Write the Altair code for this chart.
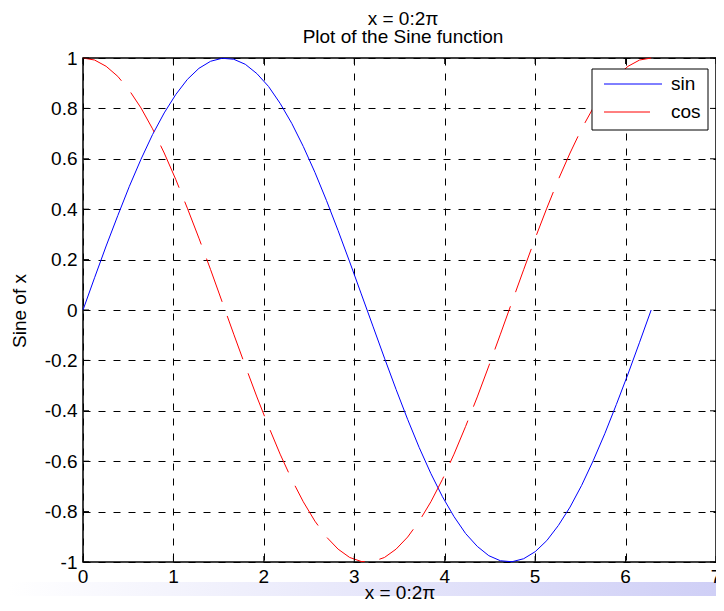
import altair as alt
import pandas as pd

# ---- data ----
x_vals = [0.000, 0.128, 0.256, 0.385, 0.513, 0.641, 0.769, 0.898, 1.026, 1.154,
          1.282, 1.411, 1.539, 1.667, 1.795, 1.923, 2.052, 2.180, 2.308, 2.436,
          2.565, 2.693, 2.821, 2.949, 3.077, 3.206, 3.334, 3.462, 3.590, 3.718,
          3.847, 3.975, 4.103, 4.231, 4.360, 4.488, 4.616, 4.744, 4.873, 5.001,
          5.129, 5.257, 5.386, 5.514, 5.642, 5.770, 5.898, 6.027, 6.155, 6.283]
sin_vals = [0.000, 0.128, 0.254, 0.375, 0.491, 0.598, 0.696, 0.782, 0.855, 0.915,
            0.959, 0.987, 0.999, 0.995, 0.975, 0.938, 0.887, 0.820, 0.741, 0.649,
            0.546, 0.434, 0.315, 0.191, 0.064, -0.064, -0.191, -0.315, -0.434, -0.546,
            -0.649, -0.741, -0.820, -0.887, -0.938, -0.975, -0.995, -0.999, -0.987, -0.959,
            -0.915, -0.855, -0.782, -0.696, -0.598, -0.491, -0.375, -0.254, -0.128, 0.000]
cos_vals = [1.000, 0.992, 0.967, 0.927, 0.871, 0.802, 0.719, 0.623, 0.518, 0.404,
            0.285, 0.160, 0.032, -0.096, -0.222, -0.345, -0.462, -0.572, -0.672, -0.761,
            -0.838, -0.901, -0.949, -0.982, -0.998, -0.998, -0.982, -0.949, -0.901, -0.838,
            -0.761, -0.672, -0.572, -0.462, -0.345, -0.222, -0.096, 0.032, 0.160, 0.285,
            0.404, 0.518, 0.623, 0.719, 0.802, 0.871, 0.927, 0.967, 0.992, 1.000]
x_ticks = [0, 1, 2, 3, 4, 5, 6, 7]
y_ticks = [-1, -0.8, -0.6, -0.4, -0.2, 0, 0.2, 0.4, 0.6, 0.8, 1]
series_names = ["sin", "cos"]
series_colors = ["#0000ff", "#ff0000"]
title_lines = ["x = 0:2\u03c0", "Plot of the Sine function"]
x_title = "x = 0:2\u03c0"
y_title = "Sine of x"

# ---- layout ----
W, H = 633, 504
PAD_L, PAD_T, PAD_R, PAD_B = 75, 50, 0, 41
FONT = "Liberation Sans"
FS = 19
COS_DASH = [46, 15]

df = pd.DataFrame({"x": x_vals, "sin": sin_vals, "cos": cos_vals})
xs = alt.Scale(domain=[0, 7], nice=False, zero=False)
ys = alt.Scale(domain=[-1, 1], nice=False, zero=False)

axis_common = dict(grid=True, gridColor="black", gridDash=[7, 8], gridWidth=1,
                   gridOpacity=1, ticks=False, tickSize=0, domain=False,
                   labelFont=FONT, labelFontSize=FS, labelColor="black",
                   labelPadding=6, title=None, labelFlush=False,
                   labelOverlap=False, labelExpr="toString(datum.value)")

one = pd.DataFrame({"k": [0]})

band = alt.Chart(one).mark_rect(
    color={"gradient": "linear",
           "stops": [{"offset": 0, "color": "#ffffff"},
                     {"offset": 1, "color": "#cfcff6"}],
           "x1": 0, "x2": 1, "y1": 0, "y2": 0}
).encode(x=alt.value(-PAD_L), x2=alt.value(W + PAD_R), y=alt.value(524), y2=alt.value(538))

sin_line = alt.Chart(df).mark_line(color=series_colors[0], strokeWidth=1).encode(
    x=alt.X("x:Q", scale=xs, axis=alt.Axis(values=x_ticks, **{**axis_common, "labels": False})),
    y=alt.Y("sin:Q", scale=ys, axis=alt.Axis(values=y_ticks, **axis_common)),
)
cos_line = alt.Chart(df).mark_line(color=series_colors[1], strokeWidth=1,
                                   strokeDash=COS_DASH).encode(
    x=alt.X("x:Q", scale=xs),
    y=alt.Y("cos:Q", scale=ys),
)

xt = pd.DataFrame({"t": x_ticks})
yt = pd.DataFrame({"t": y_ticks})
tick_b = alt.Chart(xt).mark_rule(color="black", strokeWidth=1).encode(
    x=alt.X("t:Q", scale=xs), y=alt.value(H), y2=alt.value(H - 6))
tick_t = alt.Chart(xt).mark_rule(color="black", strokeWidth=1).encode(
    x=alt.X("t:Q", scale=xs), y=alt.value(0), y2=alt.value(6))
tick_l = alt.Chart(yt).mark_rule(color="black", strokeWidth=1).encode(
    y=alt.Y("t:Q", scale=ys), x=alt.value(0), x2=alt.value(6))
tick_r = alt.Chart(yt).mark_rule(color="black", strokeWidth=1).encode(
    y=alt.Y("t:Q", scale=ys), x=alt.value(W - 6), x2=alt.value(W))
x_labels = alt.Chart(xt).mark_text(font=FONT, fontSize=FS, color="black",
                                   align="center", baseline="middle").encode(
    x=alt.X("t:Q", scale=xs), y=alt.value(H + 15), text=alt.Text("t:Q"))

# legend box
LX = W - 124
leg_box = alt.Chart(one).mark_rect(fill="white", stroke="black", strokeWidth=1).encode(
    x=alt.value(LX), x2=alt.value(LX + 116), y=alt.value(11), y2=alt.value(72))
leg_layers = []
for i, (name, col) in enumerate(zip(series_names, series_colors)):
    yy = 26 + i * 28
    dash = [1, 0] if i == 0 else COS_DASH
    leg_layers.append(alt.Chart(one).mark_rule(color=col, strokeWidth=1, strokeDash=dash).encode(
        x=alt.value(LX + 12), x2=alt.value(LX + 70), y=alt.value(yy)))
    leg_layers.append(alt.Chart(pd.DataFrame({"t": [name]})).mark_text(
        font=FONT, fontSize=FS, color="black", align="left", baseline="middle").encode(
        text="t:N", x=alt.value(LX + 79), y=alt.value(yy)))

def label(txt, x, y, angle=0):
    return alt.Chart(pd.DataFrame({"t": [txt]})).mark_text(
        font=FONT, fontSize=FS, color="black", align="center", baseline="middle",
        angle=angle).encode(text="t:N", x=alt.value(x), y=alt.value(y))

t1 = label(title_lines[0], 320, -39)
t2 = label(title_lines[1], 320, -21)
xl = label(x_title, 317, H + 31)
yl = label(y_title, -63, H / 2 + 1, angle=270)

chart = alt.layer(
    band, sin_line, cos_line, tick_b, tick_t, tick_l, tick_r, x_labels,
    leg_box, *leg_layers, t1, t2, xl, yl
).properties(
    width=W, height=H,
    autosize=alt.AutoSizeParams(type="none"),
    padding={"left": PAD_L, "top": PAD_T, "right": PAD_R, "bottom": PAD_B},
).configure_view(stroke="black", strokeWidth=1.5)

chart.save("out.html", embed_options={"renderer": "svg", "actions": False})
